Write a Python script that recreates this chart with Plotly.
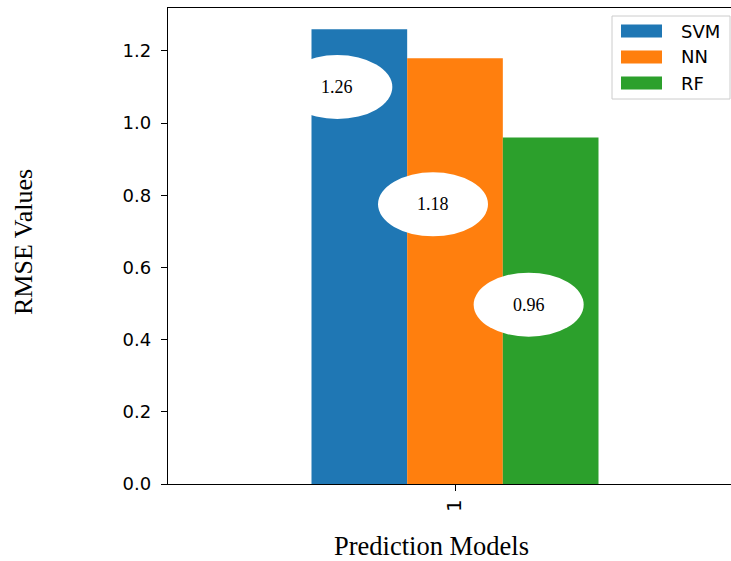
import plotly.graph_objects as go

# ---- data ----
models = ["SVM", "NN", "RF"]
rmse = [1.26, 1.18, 0.96]
category = ["1"]
label_pos = [1.10, 0.775, 0.497]   # vertical placement of value labels
colors = ["#1f77b4", "#ff7f0e", "#2ca02c"]

W, H = 731, 561
L, R, T, B = 168, 0, 8, 77
pw, ph = W - L - R, H - T - B
px_per_x = 574.0
x_range = [-0.5, -0.5 + pw / px_per_x]
y_range = [0, 1.319]

n = len(models)
bw = 0.5 / n

fig = go.Figure()
for i, (m, v, c) in enumerate(zip(models, rmse, colors)):
    fig.add_trace(go.Bar(
        x=[0], y=[v], name=m, width=[bw], offset=[-0.25 + i * bw],
        marker=dict(color=c, line=dict(width=0)), showlegend=False,
        hoverinfo="skip",
    ))

shapes = []
annotations = []
# value labels inside white ellipses
for i, (v, lp) in enumerate(zip(rmse, label_pos)):
    cx = -0.25 + (i + 0.5) * bw - 22 / px_per_x
    shapes.append(dict(type="circle", xref="x", yref="y",
                       xsizemode="pixel", ysizemode="pixel",
                       xanchor=cx, yanchor=lp,
                       x0=-55, x1=55, y0=-32, y1=32,
                       fillcolor="white", line=dict(width=0), layer="above"))
    annotations.append(dict(x=cx, y=lp, xref="x", yref="y", text=f"{v:.2f}",
                            showarrow=False,
                            font=dict(family="Liberation Serif", size=18, color="black")))

def px(x):
    return (x - L) / pw

def py(y):
    return (H - B - y) / ph

# custom legend (matplotlib style)
shapes.append(dict(type="rect", xref="paper", yref="paper",
                   x0=px(612), x1=px(730), y0=py(99), y1=py(16),
                   fillcolor="rgba(255,255,255,0.8)", line=dict(color="#cccccc", width=1),
                   layer="above"))
for i, (m, c) in enumerate(zip(models, colors)):
    yc = 31 + i * 26
    shapes.append(dict(type="rect", xref="paper", yref="paper",
                       x0=px(621), x1=px(662), y0=py(yc + 6.5), y1=py(yc - 6.5),
                       fillcolor=c, line=dict(width=0), layer="above"))
    annotations.append(dict(x=px(679), y=py(yc), xref="paper", yref="paper",
                            text=m, showarrow=False, xanchor="left", yanchor="middle",
                            font=dict(family="DejaVu Sans", size=18, color="black")))

# axis titles
annotations.append(dict(x=px(431), y=py(546), xref="paper", yref="paper",
                        text="Prediction Models", showarrow=False,
                        xanchor="center", yanchor="middle",
                        font=dict(family="Liberation Serif", size=26.5, color="black")))
annotations.append(dict(x=px(23), y=py(242), xref="paper", yref="paper",
                        text="RMSE Values", showarrow=False, textangle=-90,
                        xanchor="center", yanchor="middle",
                        font=dict(family="Liberation Serif", size=26, color="black")))

fig.update_layout(
    width=W, height=H,
    margin=dict(l=L, r=R, t=T, b=B, pad=0),
    paper_bgcolor="white", plot_bgcolor="white",
    barmode="overlay",
    shapes=shapes, annotations=annotations,
    showlegend=False,
)
fig.update_xaxes(range=x_range, tickvals=[0], ticktext=category, tickangle=-90,
                 showgrid=False, zeroline=False, showline=True, linecolor="black",
                 linewidth=1.3, mirror=True, ticks="outside", ticklen=6, tickwidth=1.3,
                 tickcolor="black",
                 tickfont=dict(family="DejaVu Sans", size=20, color="black"))
fig.update_yaxes(range=y_range, tickvals=[0, 0.2, 0.4, 0.6, 0.8, 1.0, 1.2],
                 ticktext=["0.0", "0.2", "0.4", "0.6", "0.8", "1.0", "1.2"],
                 showgrid=False, zeroline=False, showline=True, linecolor="black",
                 linewidth=1.3, ticks="outside", ticklen=6, tickwidth=1.3,
                 tickcolor="black", ticklabelstandoff=6,
                 tickfont=dict(family="DejaVu Sans", size=18, color="black"))

fig.write_html("out.html", config={"displayModeBar": False},
               post_script="document.body.style.margin='0';document.body.style.overflow='hidden';")
